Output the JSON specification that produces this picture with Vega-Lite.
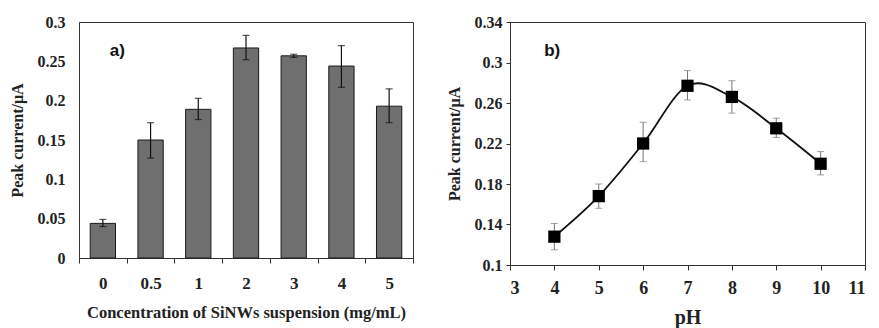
{
  "$schema": "https://vega.github.io/schema/vega-lite/v6.json",
  "background": "white",
  "padding": {"left": 8, "top": 13, "right": 0, "bottom": 0},
  "spacing": 31,
  "config": {
    "font": "Liberation Serif",
    "view": {"stroke": "#333", "strokeWidth": 1},
    "axis": {
      "labelFont": "Liberation Serif",
      "labelFontWeight": "bold",
      "labelColor": "#222",
      "titleFont": "Liberation Serif",
      "titleFontWeight": "bold",
      "titleColor": "#222",
      "domainColor": "#333",
      "tickColor": "#333",
      "grid": false
    }
  },
  "hconcat": [
    {
      "width": 334,
      "height": 236,
      "data": {"values": [
        {"conc": "0", "current": 0.044, "lo": 0.040, "hi": 0.049},
        {"conc": "0.5", "current": 0.150, "lo": 0.127, "hi": 0.172},
        {"conc": "1", "current": 0.189, "lo": 0.176, "hi": 0.203},
        {"conc": "2", "current": 0.267, "lo": 0.252, "hi": 0.283},
        {"conc": "3", "current": 0.257, "lo": 0.255, "hi": 0.259},
        {"conc": "4", "current": 0.244, "lo": 0.217, "hi": 0.270},
        {"conc": "5", "current": 0.193, "lo": 0.172, "hi": 0.215}
      ]},
      "encoding": {
        "x": {"field": "conc", "type": "ordinal", "sort": null,
              "scale": {"paddingInner": 0, "paddingOuter": 0},
              "axis": {"title": "Concentration of SiNWs suspension (mg/mL)", "labelAngle": 0,
                       "labelFontSize": 17, "titleFontSize": 16.5, "tickBand": "extent",
                       "tickSize": 5, "labelPadding": 12, "titlePadding": 13}}
      },
      "layer": [
        {
          "mark": {"type": "bar", "color": "#6f6f6f", "stroke": "#1a1a1a", "strokeWidth": 1, "width": {"band": 0.53}},
          "encoding": {
            "y": {"field": "current", "type": "quantitative",
                  "scale": {"domain": [0, 0.3], "nice": false},
                  "axis": {"title": "Peak current/μA", "values": [0, 0.05, 0.1, 0.15, 0.2, 0.25, 0.3],
                           "format": "~g", "labelFontSize": 16, "titleFontSize": 16, "ticks": false,
                           "labelPadding": 14, "titlePadding": 12}}
          }
        },
        {
          "mark": {"type": "errorbar", "ticks": {"size": 7, "color": "#111"}, "color": "#111", "thickness": 1.2},
          "encoding": {
            "y": {"field": "lo", "type": "quantitative",
                  "scale": {"domain": [0, 0.3], "nice": false},
                  "axis": {"title": "Peak current/μA", "values": [0, 0.05, 0.1, 0.15, 0.2, 0.25, 0.3],
                           "format": "~g", "labelFontSize": 16, "titleFontSize": 16, "ticks": false,
                           "labelPadding": 14, "titlePadding": 12}},
            "y2": {"field": "hi"}
          }
        },
        {
          "data": {"values": [{"conc": "0", "v": 0.263, "label": "a)"}]},
          "mark": {"type": "text", "font": "Liberation Sans", "fontWeight": "bold", "fontSize": 17, "align": "left", "baseline": "middle", "dx": 7, "color": "#111"},
          "encoding": {
            "y": {"field": "v", "type": "quantitative",
                  "scale": {"domain": [0, 0.3], "nice": false},
                  "axis": {"title": "Peak current/μA", "values": [0, 0.05, 0.1, 0.15, 0.2, 0.25, 0.3],
                           "format": "~g", "labelFontSize": 16, "titleFontSize": 16, "ticks": false,
                           "labelPadding": 14, "titlePadding": 12}},
            "text": {"field": "label"}
          }
        }
      ]
    },
    {
      "width": 355,
      "height": 243,
      "data": {"values": [
        {"pH": 4, "current": 0.128, "lo": 0.115, "hi": 0.141},
        {"pH": 5, "current": 0.168, "lo": 0.156, "hi": 0.180},
        {"pH": 6, "current": 0.220, "lo": 0.202, "hi": 0.241},
        {"pH": 7, "current": 0.277, "lo": 0.263, "hi": 0.292},
        {"pH": 8, "current": 0.266, "lo": 0.250, "hi": 0.282},
        {"pH": 9, "current": 0.235, "lo": 0.226, "hi": 0.245},
        {"pH": 10, "current": 0.200, "lo": 0.189, "hi": 0.212}
      ]},
      "encoding": {
        "x": {"field": "pH", "type": "quantitative",
              "scale": {"domain": [3, 11], "nice": false},
              "axis": {"title": "pH", "values": [3, 4, 5, 6, 7, 8, 9, 10, 11], "labelFontSize": 18,
                       "titleFontSize": 20, "tickSize": 5, "labelPadding": 9, "titlePadding": 10}}
      },
      "layer": [
        {
          "mark": {"type": "errorbar", "ticks": {"size": 7, "color": "#777"}, "color": "#777", "thickness": 1},
          "encoding": {
            "y": {"field": "lo", "type": "quantitative",
                  "scale": {"domain": [0.1, 0.34], "nice": false},
                  "axis": {"title": "Peak current/μA", "values": [0.1, 0.14, 0.18, 0.22, 0.26, 0.3, 0.34],
                           "format": "~g", "labelFontSize": 16, "titleFontSize": 16, "tickSize": 4,
                           "labelPadding": 4, "titlePadding": 12}},
            "y2": {"field": "hi"}
          }
        },
        {
          "mark": {"type": "line", "interpolate": "cardinal", "color": "#111", "strokeWidth": 1.8},
          "encoding": {"y": {"field": "current", "type": "quantitative",
                  "scale": {"domain": [0.1, 0.34], "nice": false},
                  "axis": {"title": "Peak current/μA", "values": [0.1, 0.14, 0.18, 0.22, 0.26, 0.3, 0.34],
                           "format": "~g", "labelFontSize": 16, "titleFontSize": 16, "tickSize": 4,
                           "labelPadding": 4, "titlePadding": 12}}}
        },
        {
          "mark": {"type": "point", "shape": "square", "filled": true, "color": "#000", "size": 150, "opacity": 1},
          "encoding": {"y": {"field": "current", "type": "quantitative",
                  "scale": {"domain": [0.1, 0.34], "nice": false},
                  "axis": {"title": "Peak current/μA", "values": [0.1, 0.14, 0.18, 0.22, 0.26, 0.3, 0.34],
                           "format": "~g", "labelFontSize": 16, "titleFontSize": 16, "tickSize": 4,
                           "labelPadding": 4, "titlePadding": 12}}}
        },
        {
          "data": {"values": [{"pH": 3.77, "v": 0.311, "label": "b)"}]},
          "mark": {"type": "text", "font": "Liberation Sans", "fontWeight": "bold", "fontSize": 17, "align": "left", "baseline": "middle", "color": "#111"},
          "encoding": {
            "y": {"field": "v", "type": "quantitative",
                  "scale": {"domain": [0.1, 0.34], "nice": false},
                  "axis": {"title": "Peak current/μA", "values": [0.1, 0.14, 0.18, 0.22, 0.26, 0.3, 0.34],
                           "format": "~g", "labelFontSize": 16, "titleFontSize": 16, "tickSize": 4,
                           "labelPadding": 4, "titlePadding": 12}},
            "text": {"field": "label"}
          }
        }
      ]
    }
  ]
}
